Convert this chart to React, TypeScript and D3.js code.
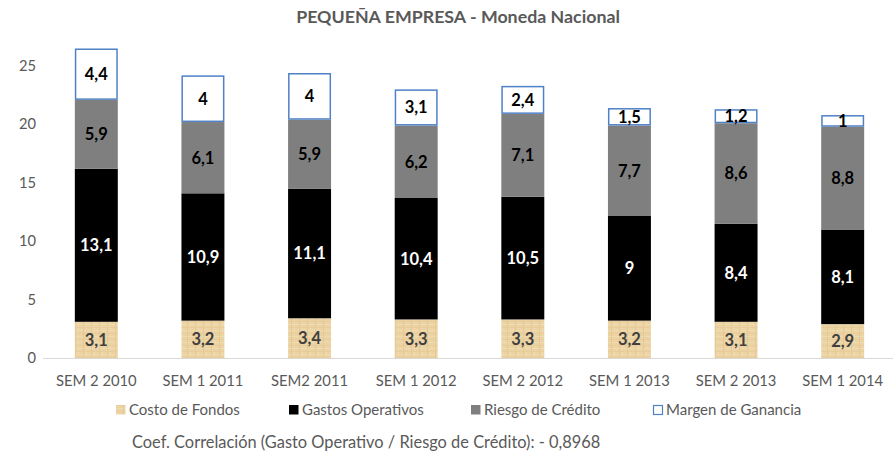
import { scaleBand, scaleLinear, select, stack } from "d3";
import React, { useEffect, useRef } from "react";

const categories = [
    "SEM 2 2010",
    "SEM 1 2011",
    "SEM2 2011",
    "SEM 1 2012",
    "SEM 2 2012",
    "SEM 1 2013",
    "SEM 2 2013",
    "SEM 1 2014",
];
const costoFondos = [3.1, 3.2, 3.4, 3.3, 3.3, 3.2, 3.1, 2.9];
const gastosOperativos = [13.1, 10.9, 11.1, 10.4, 10.5, 9, 8.4, 8.1];
const riesgoCredito = [5.9, 6.1, 5.9, 6.2, 7.1, 7.7, 8.6, 8.8];
const margenGanancia = [4.4, 4, 4, 3.1, 2.4, 1.5, 1.2, 1];
const seriesNames = [
    "Costo de Fondos",
    "Gastos Operativos",
    "Riesgo de Crédito",
    "Margen de Ganancia",
];
const yTicks = [0, 5, 10, 15, 20, 25];

const W = 893,
    H = 454;
const FONT = "Lato, 'Open Sans', sans-serif";

const App: React.FC = () => {
    const svgRef = useRef<SVGSVGElement>(null);

    useEffect(() => {
        if (!svgRef.current) return;
        svgRef.current.innerHTML = "";
        const svg = select(svgRef.current);

        const rows = categories.map((c, i) => ({
            cat: c,
            s0: costoFondos[i],
            s1: gastosOperativos[i],
            s2: riesgoCredito[i],
            s3: margenGanancia[i],
        }));
        const keys = ["s0", "s1", "s2", "s3"];
        const stacked = stack<any>().keys(keys)(rows);

        const x = scaleBand<string>()
            .domain(categories)
            .range([43, 896])
            .paddingInner(0.597)
            .paddingOuter(0.2985);
        const y = scaleLinear().domain([0, 25]).range([358, 66]);

        // texture for Costo de Fondos (papyrus look)
        const defs = svg.append("defs");
        const pat = defs
            .append("pattern")
            .attr("id", "papel")
            .attr("patternUnits", "userSpaceOnUse")
            .attr("width", 8)
            .attr("height", 6);
        pat.append("rect").attr("width", 8).attr("height", 6).attr("fill", "#ecd3a3");
        pat.append("rect").attr("y", 0).attr("width", 8).attr("height", 1).attr("fill", "#f0dbb0");
        pat.append("rect").attr("y", 3).attr("width", 8).attr("height", 1).attr("fill", "#e8cd9a");
        pat.append("rect").attr("x", 3).attr("width", 1).attr("height", 6).attr("fill", "#e6ca96");
        pat.append("rect").attr("x", 6).attr("y", 4).attr("width", 1).attr("height", 1).attr("fill", "#f2dfb8");

        const fills = ["url(#papel)", "#000000", "#7f7f7f", "#ffffff"];
        const labelColors = ["#404040", "#ffffff", "#000000", "#000000"];

        svg.append("text")
            .attr("x", 458)
            .attr("y", 23)
            .attr("text-anchor", "middle")
            .attr("font-family", FONT)
            .attr("font-size", 17.8)
            .attr("font-weight", "bold")
            .attr("fill", "#595959")
            .text("PEQUEÑA EMPRESA - Moneda Nacional");

        // y axis labels
        svg.append("g")
            .selectAll("text")
            .data(yTicks)
            .enter()
            .append("text")
            .attr("x", 36)
            .attr("y", d => y(d) + 5)
            .attr("text-anchor", "end")
            .attr("font-family", FONT)
            .attr("font-size", 14.7)
            .attr("fill", "#595959")
            .text(d => d);

        // baseline
        svg.append("line")
            .attr("x1", 43)
            .attr("x2", 893)
            .attr("y1", y(0) + 0.5)
            .attr("y2", y(0) + 0.5)
            .attr("stroke", "#d9d9d9")
            .attr("stroke-width", 1);

        // bars
        stacked.forEach((layer, k) => {
            const g = svg.append("g");
            g.selectAll("rect")
                .data(layer)
                .enter()
                .append("rect")
                .attr("x", (d: any) => x(d.data.cat)! + (k === 3 ? 0.75 : 0))
                .attr("y", d => y(d[1]) + (k === 3 ? 0.75 : 0))
                .attr("width", x.bandwidth() - (k === 3 ? 1.5 : 0))
                .attr("height", d => y(d[0]) - y(d[1]) - (k === 3 ? 1.5 : 0))
                .attr("fill", fills[k])
                .attr("stroke", k === 3 ? "#4f81c7" : "none")
                .attr("stroke-width", 1.5);

            g.selectAll("text")
                .data(layer)
                .enter()
                .append("text")
                .attr("x", (d: any) => x(d.data.cat)! + x.bandwidth() / 2)
                .attr("y", d => (y(d[0]) + y(d[1])) / 2 + 6)
                .attr("text-anchor", "middle")
                .attr("font-family", FONT)
                .attr("font-size", 16.5)
                .attr("font-weight", "bold")
                .attr("fill", labelColors[k])
                .text(d => String(+(d[1] - d[0]).toFixed(1)).replace(".", ","));
        });

        // x axis labels
        svg.append("g")
            .selectAll("text")
            .data(categories)
            .enter()
            .append("text")
            .attr("x", d => x(d)! + x.bandwidth() / 2)
            .attr("y", 386)
            .attr("text-anchor", "middle")
            .attr("font-family", FONT)
            .attr("font-size", 14.8)
            .attr("fill", "#595959")
            .text(d => d);

        // legend
        const legX = [116, 289, 471, 653];
        const leg = svg.append("g");
        seriesNames.forEach((name, k) => {
            leg.append("rect")
                .attr("x", legX[k] + (k === 3 ? 0.5 : 0))
                .attr("y", 405 + (k === 3 ? 0.5 : 0))
                .attr("width", k === 3 ? 9 : 9.5)
                .attr("height", k === 3 ? 9 : 9.5)
                .attr("fill", fills[k])
                .attr("stroke", k === 3 ? "#4f81c7" : "none")
                .attr("stroke-width", 1.2);
            leg.append("text")
                .attr("x", legX[k] + 13)
                .attr("y", 415)
                .attr("font-family", FONT)
                .attr("font-size", 15)
                .attr("fill", "#595959")
                .text(name);
        });

        svg.append("text")
            .attr("x", 132)
            .attr("y", 448)
            .attr("font-family", FONT)
            .attr("font-size", 16.4)
            .attr("fill", "#595959")
            .text("Coef. Correlación (Gasto Operativo / Riesgo de Crédito): - 0,8968");
    }, []);

    return (
        <svg
            ref={svgRef}
            width={W}
            height={H}
            style={{ position: "absolute", left: 0, top: 0, background: "#fff" }}
        ></svg>
    );
};

export default App;
